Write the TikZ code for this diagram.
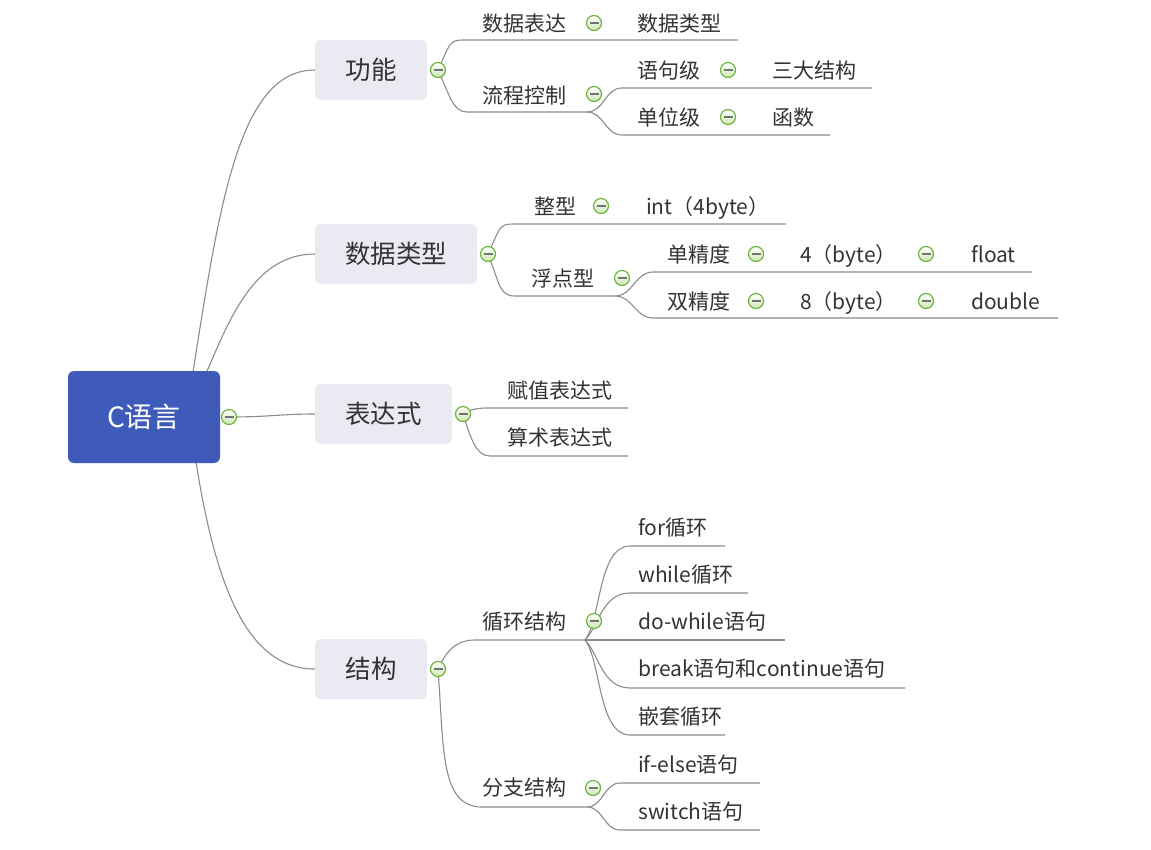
\documentclass[tikz,border=0pt]{standalone}
\usepackage{fontspec}
\setmainfont{Noto Sans CJK SC}
\usetikzlibrary{calc}
\pgfdeclarelayer{back}
\pgfdeclarelayer{bg}
\pgfsetlayers{back,bg,main}
\definecolor{rootblue}{HTML}{3F5BB9}
\definecolor{boxgray}{HTML}{EAEAF2}
\definecolor{linegray}{HTML}{8C8C8C}
\definecolor{txt}{HTML}{333333}
\definecolor{cgreen}{HTML}{6DB33F}
\definecolor{cfill}{HTML}{CDE8B5}
\begin{document}
\begin{tikzpicture}[x=1pt,y=-1pt,
  conn/.style={draw=linegray,line width=1.1pt},
  rootbox/.style={fill=rootblue,rounded corners=6pt,minimum width=152pt,minimum height=92pt,text=white,font=\fontsize{28}{30}\selectfont,inner sep=0pt,text height=24.6pt,text depth=3.4pt},
  mainbox/.style={fill=boxgray,rounded corners=6pt,minimum height=60pt,text=txt,font=\fontsize{25.5}{28}\selectfont,inner sep=0pt,text height=22.4pt,text depth=3.1pt},
  lbl/.style={anchor=west,inner sep=0pt,text=txt,font=\fontsize{21}{23}\selectfont,text height=18.5pt,text depth=2.5pt},
  fold/.style={circle,draw=cgreen,line width=1.2pt,top color=white,bottom color=cfill,minimum size=15pt,inner sep=0pt,
    path picture={\draw[line width=1.4pt,draw=black!55] ($(path picture bounding box.center)+(-4.5,0)$) -- ($(path picture bounding box.center)+(4.5,0)$);}}
]
\useasboundingbox (0,0) rectangle (1151,849);
\begin{pgfonlayer}{back}
\fill[white] (0,0) rectangle (1151,849);
\end{pgfonlayer}

% ---- boxes
\node[rootbox] (root) at (144,417) {C语言};
\node[mainbox,minimum width=112pt] (gn) at (371,70) {功能};
\node[mainbox,minimum width=162pt] (sjlx) at (396,254) {数据类型};
\node[mainbox,minimum width=137pt] (bds) at (383.5,414) {表达式};
\node[mainbox,minimum width=112pt] (jg) at (371,669) {结构};

% ---- labels
\node[lbl] (l-sjbd) at (482,23) {数据表达};
\node[lbl] (l-sjlx) at (637,23) {数据类型};
\node[lbl] (l-lckz) at (482,95) {流程控制};
\node[lbl] (l-yjj) at (637,70) {语句级};
\node[lbl] (l-sdjg) at (772,70) {三大结构};
\node[lbl] (l-dwj) at (637,117) {单位级};
\node[lbl] (l-hs) at (772,117) {函数};
\node[lbl] (l-zx) at (534,206) {整型};
\node[lbl] (l-int) at (646,206) {int（4byte）};
\node[lbl] (l-fdx) at (531,278) {浮点型};
\node[lbl] (l-dj) at (667,254) {单精度};
\node[lbl] (l-4b) at (800,254) {4（byte）};
\node[lbl] (l-float) at (971,254) {float};
\node[lbl] (l-sj) at (667,301) {双精度};
\node[lbl] (l-8b) at (800,301) {8（byte）};
\node[lbl] (l-double) at (971,301) {double};
\node[lbl] (l-fz) at (507,390) {赋值表达式};
\node[lbl] (l-ss) at (507,437) {算术表达式};
\node[lbl] (l-xh) at (482,621) {循环结构};
\node[lbl] (l-for) at (638,527) {for循环};
\node[lbl] (l-while) at (638,574) {while循环};
\node[lbl] (l-dowh) at (638,621) {do-while语句};
\node[lbl] (l-brk) at (638,668) {break语句和continue语句};
\node[lbl] (l-qt) at (638,716) {嵌套循环};
\node[lbl] (l-fzjg) at (482,787) {分支结构};
\node[lbl] (l-if) at (638,764) {if-else语句};
\node[lbl] (l-sw) at (638,811) {switch语句};

% ---- fold markers
\node[fold] (c-root) at (229,417) {};
\node[fold] (c-gn) at (438,70) {};
\node[fold] (c-sjlx) at (488,254) {};
\node[fold] (c-bds) at (463,414) {};
\node[fold] (c-jg) at (438,669) {};
\node[fold] (c-sjbd) at (594,23) {};
\node[fold] (c-lckz) at (594,94) {};
\node[fold] (c-yjj) at (728,70) {};
\node[fold] (c-dwj) at (728,117) {};
\node[fold] (c-zx) at (601,206) {};
\node[fold] (c-fdx) at (622,278) {};
\node[fold] (c-dj) at (756,254) {};
\node[fold] (c-4b) at (926,254) {};
\node[fold] (c-sj) at (756,301) {};
\node[fold] (c-8b) at (926,301) {};
\node[fold] (c-xh) at (594,621) {};
\node[fold] (c-fzjg) at (593,788) {};

% ---- coordinates
\coordinate (r-a) at ($(root.north east)+(-27,0)$);
\coordinate (r-b) at ($(root.north east)+(-13,0)$);
\coordinate (r-d) at ($(root.south east)+(-24,0)$);
\coordinate (gnA) at (463,40);  \coordinate (gnAe) at (738,40);
\coordinate (gnB) at (467,112); \coordinate (gnBj) at (587,112);
\coordinate (yjA) at (622,88);  \coordinate (yjAe) at (872,88);
\coordinate (dwA) at (622,135); \coordinate (dwAe) at (830,135);
\coordinate (sjA) at (513,224); \coordinate (sjAe) at (786,224);
\coordinate (sjB) at (515,296); \coordinate (sjBj) at (615,296);
\coordinate (jdA) at (653,272); \coordinate (jdAe) at (1032,272);
\coordinate (sdA) at (653,318); \coordinate (sdAe) at (1058,318);
\coordinate (bdA) at (490,408); \coordinate (bdAe) at (628,408);
\coordinate (bdB) at (490,456); \coordinate (bdBe) at (628,456);
\coordinate (jgA) at (475,640); \coordinate (jgAj) at (585,640);
\coordinate (jgB) at (482,807); \coordinate (jgBj) at (587,807);
\coordinate (forA) at (630,546); \coordinate (forAe) at (725,546);
\coordinate (whA) at (630,593); \coordinate (whAe) at (748,593);
\coordinate (dwhAe) at (785,640);
\coordinate (brA) at (630,688); \coordinate (brAe) at (905,688);
\coordinate (qtA) at (630,735); \coordinate (qtAe) at (725,735);
\coordinate (ifA) at (620,783); \coordinate (ifAe) at (760,783);
\coordinate (swA) at (620,830); \coordinate (swAe) at (760,830);

% ---- connectors
\begin{pgfonlayer}{bg}
\draw[conn] (r-a) .. controls (220,200) and (240,70) .. (gn.west);
\draw[conn] (r-b) .. controls (230,318) and (255,254) .. (sjlx.west);
\draw[conn] (c-root.center) .. controls (270,417) and (280,414) .. (bds.west);
\draw[conn] (r-d) .. controls (215,580) and (245,669) .. (jg.west);

\draw[conn] (c-gn.center) .. controls +(12,-26) and +(-14,0) .. (gnA) -- (gnAe);
\draw[conn] (c-gn.center) .. controls +(12,26) and +(-14,0) .. (gnB) -- (gnBj);
\draw[conn] (gnBj) .. controls +(17,0) and +(-17,0) .. (yjA) -- (yjAe);
\draw[conn] (gnBj) .. controls +(17,0) and +(-17,0) .. (dwA) -- (dwAe);

\draw[conn] (c-sjlx.center) .. controls +(12,-26) and +(-14,0) .. (sjA) -- (sjAe);
\draw[conn] (c-sjlx.center) .. controls +(12,30) and +(-16,0) .. (sjB) -- (sjBj);
\draw[conn] (sjBj) .. controls +(18,0) and +(-18,0) .. (jdA) -- (jdAe);
\draw[conn] (sjBj) .. controls +(18,0) and +(-18,0) .. (sdA) -- (sdAe);

\draw[conn] (c-bds.center) .. controls +(10,-6) and +(-10,0) .. (bdA) -- (bdAe);
\draw[conn] (c-bds.center) .. controls +(8,25) and +(-14,0) .. (bdB) -- (bdBe);

\draw[conn] (c-jg.center) .. controls +(10,-22) and +(-16,0) .. (jgA) -- (jgAj);
\draw[conn] (c-jg.center) .. controls +(6,80) and +(-42,0) .. (jgB) -- (jgBj);
\draw[conn] (jgAj) .. controls +(16,-20) and +(-32,0) .. (forA) -- (forAe);
\draw[conn] (jgAj) .. controls +(14,-14) and +(-28,0) .. (whA) -- (whAe);
\draw[conn] (jgAj) -- (dwhAe);
\draw[conn] (jgAj) .. controls +(14,14) and +(-28,0) .. (brA) -- (brAe);
\draw[conn] (jgAj) .. controls +(16,20) and +(-32,0) .. (qtA) -- (qtAe);
\draw[conn] (jgBj) .. controls +(16,0) and +(-16,0) .. (ifA) -- (ifAe);
\draw[conn] (jgBj) .. controls +(16,0) and +(-16,0) .. (swA) -- (swAe);
\end{pgfonlayer}
\end{tikzpicture}
\end{document}
